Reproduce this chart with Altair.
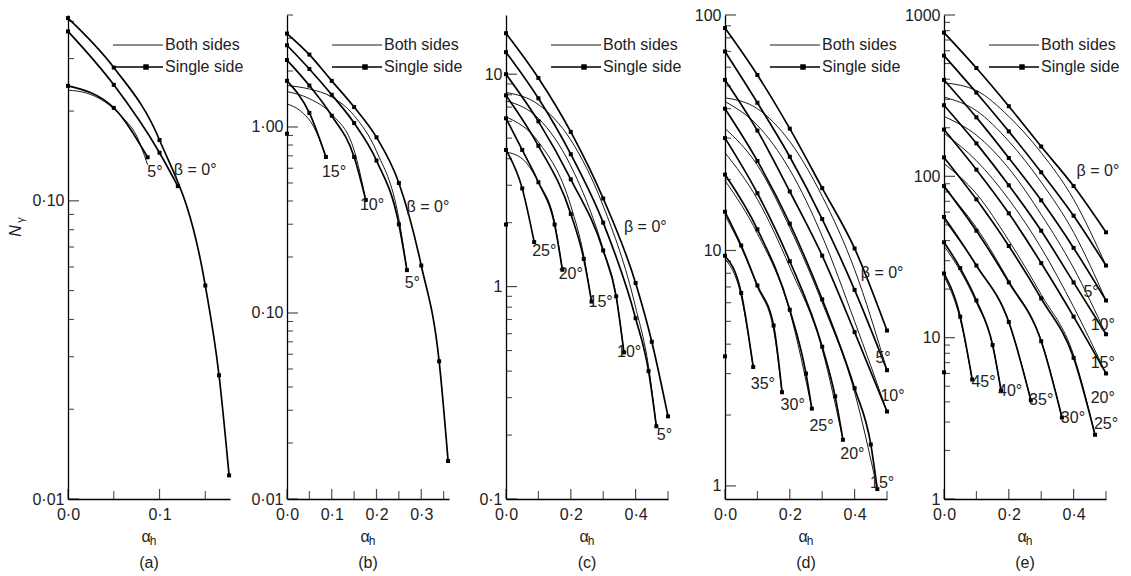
import altair as alt
import pandas as pd

FONT = "Liberation Sans"
INK = "#222222"
W, H = 162, 484

# ================= Panel (a) =================
A_ALPHA_DOMAIN = [0, 0.177]
A_N_DOMAIN = [0.01, 0.42]
A_SINGLE = {
    "0": ([0, 0.05, 0.10, 0.15, 0.165, 0.176], [0.41, 0.28, 0.16, 0.052, 0.026, 0.012]),
    "0b": ([0, 0.05, 0.10, 0.12], [0.37, 0.245, 0.145, 0.112]),
    "5": ([0, 0.05, 0.087], [0.243, 0.205, 0.14]),
}
A_BOTH = {
    "5": ([0, 0.02, 0.04, 0.06, 0.075, 0.087], [0.235, 0.23, 0.215, 0.19, 0.165, 0.132]),
}
A_ISOLATED = []
A_LABELS = [("5°", 0.095, 0.125), ("β = 0°", 0.139, 0.127)]
A_Y_MAJOR = [0.01, 0.1]
A_Y_MINOR = [0.02, 0.03, 0.04, 0.05, 0.06, 0.07, 0.08, 0.09, 0.2, 0.3, 0.4]
A_X_MAJOR = [0, 0.1]
A_X_MINOR = [0.05, 0.15]

# ================= Panel (b) =================
B_ALPHA_DOMAIN = [0, 0.362]
B_N_DOMAIN = [0.01, 4.0]
B_SINGLE = {
    "0": ([0, 0.05, 0.10, 0.15, 0.20, 0.25, 0.30, 0.34, 0.36],
          [3.18, 2.45, 1.77, 1.28, 0.88, 0.50, 0.18, 0.055, 0.016]),
    "5": ([0, 0.05, 0.10, 0.15, 0.20, 0.25, 0.268], [2.75, 2.05, 1.49, 1.05, 0.66, 0.30, 0.17]),
    "10": ([0, 0.05, 0.10, 0.15, 0.176], [2.29, 1.67, 1.15, 0.69, 0.405]),
    "15": ([0, 0.05, 0.087], [1.77, 1.19, 0.69]),
}
B_BOTH = {
    "5": ([0, 0.05, 0.10, 0.15, 0.20, 0.25, 0.268], [1.67, 1.60, 1.45, 1.15, 0.74, 0.32, 0.17]),
    "10": ([0, 0.05, 0.10, 0.15, 0.176], [1.55, 1.42, 1.17, 0.75, 0.405]),
    "15": ([0, 0.03, 0.06, 0.087], [1.33, 1.22, 1.00, 0.69]),
}
B_ISOLATED = [(0, 0.92)]
B_LABELS = [("15°", 0.105, 0.575), ("10°", 0.19, 0.38), ("5°", 0.28, 0.145), ("β = 0°", 0.315, 0.37)]
B_Y_MAJOR = [0.01, 0.1, 1]
B_Y_MINOR = [0.02, 0.03, 0.04, 0.05, 0.06, 0.07, 0.08, 0.09,
             0.2, 0.3, 0.4, 0.5, 0.6, 0.7, 0.8, 0.9, 2, 3, 4]
B_X_MAJOR = [0, 0.1, 0.2, 0.3]
B_X_MINOR = [0.05, 0.15, 0.25, 0.35]

# ================= Panel (c) =================
C_ALPHA_DOMAIN = [0, 0.5]
C_N_DOMAIN = [0.1, 19]
C_SINGLE = {
    "0": ([0, 0.1, 0.2, 0.3, 0.4, 0.45, 0.5], [15.6, 9.6, 5.35, 2.6, 1.04, 0.55, 0.245]),
    "5": ([0, 0.1, 0.2, 0.3, 0.4, 0.44, 0.464], [12.7, 7.7, 4.2, 2.0, 0.71, 0.40, 0.22]),
    "10": ([0, 0.1, 0.2, 0.3, 0.34, 0.364], [10.0, 6.0, 3.2, 1.48, 0.90, 0.49]),
    "15": ([0, 0.1, 0.2, 0.24, 0.264], [7.95, 4.6, 2.2, 1.35, 0.85]),
    "20": ([0, 0.05, 0.1, 0.15, 0.174], [6.2, 4.4, 3.1, 1.96, 1.2]),
    "25": ([0, 0.05, 0.087], [4.4, 2.9, 1.62]),
}
C_BOTH = {
    "5": ([0, 0.1, 0.2, 0.3, 0.4, 0.44, 0.464], [8.2, 7.2, 4.9, 2.4, 0.80, 0.42, 0.22]),
    "10": ([0, 0.1, 0.2, 0.3, 0.34, 0.364], [7.5, 6.2, 3.7, 1.5, 0.90, 0.49]),
    "15": ([0, 0.1, 0.2, 0.24, 0.264], [6.3, 4.8, 2.4, 1.4, 0.85]),
    "20": ([0, 0.05, 0.1, 0.15, 0.174], [4.3, 4.0, 3.1, 2.0, 1.2]),
}
C_ISOLATED = [(0, 1.96)]
C_LABELS = [("25°", 0.118, 1.47), ("20°", 0.20, 1.15), ("15°", 0.292, 0.85),
            ("10°", 0.38, 0.49), ("5°", 0.489, 0.20), ("β = 0°", 0.43, 1.9)]
C_Y_MAJOR = [0.1, 1, 10]
C_Y_MINOR = [0.2, 0.3, 0.4, 0.5, 0.6, 0.7, 0.8, 0.9, 2, 3, 4, 5, 6, 7, 8, 9]
C_X_MAJOR = [0, 0.2, 0.4]
C_X_MINOR = [0.1, 0.3, 0.5]

# ================= Panel (d) =================
D_ALPHA_DOMAIN = [0, 0.5]
D_N_DOMAIN = [0.88, 100]
D_SINGLE = {
    "0": ([0, 0.1, 0.2, 0.3, 0.4, 0.5], [88, 55.6, 32.9, 18.4, 10.2, 4.57]),
    "5": ([0, 0.1, 0.2, 0.3, 0.4, 0.5], [70, 42.4, 25, 13.6, 6.8, 3.1]),
    "10": ([0, 0.1, 0.2, 0.3, 0.4, 0.5], [53, 32.3, 17.8, 9.5, 4.5, 2.07]),
    "15": ([0, 0.1, 0.2, 0.3, 0.4, 0.45, 0.47], [40, 24, 13, 6.2, 2.6, 1.5, 0.97]),
    "20": ([0, 0.1, 0.2, 0.3, 0.34, 0.364], [30, 17.5, 9.0, 3.9, 2.4, 1.57]),
    "25": ([0, 0.1, 0.2, 0.25, 0.268], [21, 12.3, 5.6, 3.0, 2.13]),
    "30": ([0, 0.05, 0.1, 0.15, 0.176], [14.6, 10.5, 7.1, 4.8, 2.5]),
    "35": ([0, 0.05, 0.087], [9.5, 6.6, 3.2]),
}
D_BOTH = {
    "5": ([0, 0.1, 0.2, 0.3, 0.4, 0.5], [44.5, 40, 29, 17, 8.3, 3.1]),
    "10": ([0, 0.1, 0.2, 0.3, 0.4, 0.5], [42.9, 34, 22, 11.5, 5.0, 2.07]),
    "15": ([0, 0.1, 0.2, 0.3, 0.4, 0.47], [33, 23, 12.5, 6.0, 2.5, 0.97]),
    "20": ([0, 0.1, 0.2, 0.3, 0.364], [26, 16.5, 8.5, 3.8, 1.57]),
    "25": ([0, 0.1, 0.2, 0.268], [19.8, 11.8, 5.5, 2.13]),
    "30": ([0, 0.05, 0.1, 0.15, 0.176], [14.1, 10.3, 7.0, 4.6, 2.5]),
    "35": ([0, 0.05, 0.087], [9.2, 6.4, 3.2]),
}
D_ISOLATED = [(0, 3.55)]
D_LABELS = [("β = 0°", 0.485, 8.0), ("5°", 0.488, 3.5), ("10°", 0.517, 2.4), ("15°", 0.485, 1.03),
            ("20°", 0.393, 1.37), ("25°", 0.298, 1.8), ("30°", 0.209, 2.2), ("35°", 0.117, 2.7)]
D_Y_MAJOR = [1, 10, 100]
D_Y_MINOR = [2, 3, 4, 5, 6, 7, 8, 9, 20, 30, 40, 50, 60, 70, 80, 90]
D_X_MAJOR = [0, 0.2, 0.4]
D_X_MINOR = [0.1, 0.3, 0.5]

# ================= Panel (e) =================
E_ALPHA_DOMAIN = [0, 0.5]
E_N_DOMAIN = [1, 1000]
E_SINGLE = {
    "0": ([0, 0.1, 0.2, 0.3, 0.4, 0.5], [778, 469, 272, 153, 87, 45]),
    "5": ([0, 0.1, 0.2, 0.3, 0.4, 0.5], [560, 330, 190, 106, 57, 28]),
    "10": ([0, 0.1, 0.2, 0.3, 0.4, 0.5], [396, 232, 130, 71, 36, 17]),
    "15": ([0, 0.1, 0.2, 0.3, 0.4, 0.5], [276, 160, 88, 46, 22, 10.5]),
    "20": ([0, 0.1, 0.2, 0.3, 0.4, 0.5], [195, 110, 59, 29, 13.5, 6.0]),
    "25": ([0, 0.1, 0.2, 0.3, 0.4, 0.466], [131, 72, 37, 17.5, 7.5, 2.5]),
    "30": ([0, 0.1, 0.2, 0.3, 0.364], [87, 46, 22, 9.5, 3.2]),
    "35": ([0, 0.1, 0.2, 0.268], [56, 28, 12.5, 4.1]),
    "40": ([0, 0.05, 0.1, 0.15, 0.176], [39, 27, 17, 9, 4.7]),
    "45": ([0, 0.05, 0.087], [25, 13.5, 5.5]),
}
E_BOTH = {
    "5": ([0, 0.1, 0.2, 0.3, 0.4, 0.5], [380, 340, 235, 140, 72, 28]),
    "10": ([0, 0.1, 0.2, 0.3, 0.4, 0.5], [310, 255, 165, 92, 45, 17]),
    "15": ([0, 0.1, 0.2, 0.3, 0.4, 0.5], [235, 180, 112, 58, 27, 10.5]),
    "20": ([0, 0.1, 0.2, 0.3, 0.4, 0.5], [185, 125, 72, 36, 15.5, 6.0]),
    "25": ([0, 0.1, 0.2, 0.3, 0.4, 0.466], [120, 78, 40, 18.5, 7.8, 2.5]),
    "30": ([0, 0.1, 0.2, 0.3, 0.364], [85, 48, 22.5, 9.6, 3.2]),
    "35": ([0, 0.1, 0.2, 0.268], [54, 28, 12.5, 4.1]),
    "40": ([0, 0.05, 0.1, 0.15, 0.176], [37, 26, 16.5, 9, 4.7]),
    "45": ([0, 0.05, 0.087], [24, 13, 5.5]),
}
E_ISOLATED = [(0, 6.1)]
E_LABELS = [("β = 0°", 0.475, 108), ("5°", 0.454, 19.3), ("10°", 0.49, 11.9), ("15°", 0.49, 7.0),
            ("20°", 0.49, 4.2), ("25°", 0.50, 2.9), ("30°", 0.398, 3.2), ("35°", 0.30, 4.1),
            ("40°", 0.204, 4.7), ("45°", 0.122, 5.3)]
E_Y_MAJOR = [1, 10, 100, 1000]
E_Y_MINOR = [2, 3, 4, 5, 6, 7, 8, 9, 20, 30, 40, 50, 60, 70, 80, 90,
             200, 300, 400, 500, 600, 700, 800, 900]
E_X_MAJOR = [0, 0.2, 0.4]
E_X_MINOR = [0.1, 0.3, 0.5]


def curve_frame(curves, kind):
    rows = []
    for name, (xs, ys) in curves.items():
        for x, y in zip(xs, ys):
            rows.append({"curve": f"{kind}-{name}", "alpha": x, "N": y})
    return pd.DataFrame(rows, columns=["curve", "alpha", "N"])


def txt(text, x, y, size=16, **kw):
    return alt.Chart(pd.DataFrame({"t": [text]})).mark_text(
        text=text, font=FONT, fontSize=size, color=INK, **kw
    ).encode(x=alt.value(x), y=alt.value(y))


def make_panel(letter, xdom, ydom, single, both, isolated, labels,
               ymajor, yminor, yfmt, xmajor, xminor, ytitle=False):
    xsc = alt.Scale(domain=xdom, nice=False, zero=False)
    ysc = alt.Scale(type="log", domain=ydom, nice=False)
    common = dict(ticks=False, grid=False, domainColor="black", domainWidth=1.3,
                  labelFont=FONT, labelFontSize=16, labelColor=INK, labelFlush=False,
                  labelOverlap=False, title=None,
                  labelExpr="replace(datum.label, '.', '·')")
    xax = alt.Axis(values=xmajor, format=".1f", labelPadding=7, **common)
    yax = alt.Axis(values=ymajor, format=yfmt, labelPadding=4, **common)

    def X():
        return alt.X("alpha:Q", scale=xsc, axis=xax)

    def Y():
        return alt.Y("N:Q", scale=ysc, axis=yax)

    layers = []
    sdf = curve_frame(single, "s")
    bdf = curve_frame(both, "b")
    idf = pd.DataFrame([{"curve": "iso", "alpha": a, "N": n} for a, n in isolated],
                       columns=["curve", "alpha", "N"])

    layers.append(alt.Chart(sdf).mark_line(color="black", strokeWidth=1.7, interpolate="monotone")
                  .encode(x=X(), y=Y(), detail="curve:N"))
    layers.append(alt.Chart(bdf).mark_line(color="black", strokeWidth=0.9, interpolate="monotone")
                  .encode(x=X(), y=Y(), detail="curve:N"))
    layers.append(alt.Chart(pd.concat([sdf, idf], ignore_index=True))
                  .mark_square(color="black", size=16, opacity=1)
                  .encode(x=X(), y=Y()))

    # inward tick marks (ticks centred half a length inside the axis line)
    layers.append(alt.Chart(pd.DataFrame({"N": ymajor}))
                  .mark_tick(orient="horizontal", color="black", size=11, thickness=1.2)
                  .encode(y=Y(), x=alt.value(5.5)))
    layers.append(alt.Chart(pd.DataFrame({"N": yminor}))
                  .mark_tick(orient="horizontal", color="black", size=6, thickness=1.1)
                  .encode(y=Y(), x=alt.value(3)))
    layers.append(alt.Chart(pd.DataFrame({"alpha": xmajor}))
                  .mark_tick(orient="vertical", color="black", size=10, thickness=1.2)
                  .encode(x=X(), y=alt.value(H - 5)))
    layers.append(alt.Chart(pd.DataFrame({"alpha": xminor}))
                  .mark_tick(orient="vertical", color="black", size=8, thickness=1.1)
                  .encode(x=X(), y=alt.value(H - 4)))

    ldf = pd.DataFrame(labels, columns=["text", "alpha", "N"])
    layers.append(alt.Chart(ldf).mark_text(font=FONT, fontSize=16, color=INK, align="center",
                                           baseline="middle")
                  .encode(x=X(), y=Y(), text="text:N"))

    # legend
    one = pd.DataFrame({"k": [0]})
    layers.append(alt.Chart(one).mark_rule(color="black", strokeWidth=0.9)
                  .encode(x=alt.value(45), x2=alt.value(95), y=alt.value(30)))
    layers.append(alt.Chart(one).mark_rule(color="black", strokeWidth=1.7)
                  .encode(x=alt.value(45), x2=alt.value(95), y=alt.value(52)))
    layers.append(alt.Chart(one).mark_square(color="black", size=30, opacity=1)
                  .encode(x=alt.value(78), y=alt.value(52)))
    layers.append(txt("Both sides", 97, 30, align="left", baseline="middle"))
    layers.append(txt("Single side", 97, 52, align="left", baseline="middle"))

    # axis title and panel letter
    layers.append(txt("α", W / 2 - 3, H + 38, align="center", baseline="middle"))
    layers.append(txt("h", W / 2 + 4, H + 42, size=12, align="center", baseline="middle"))
    layers.append(txt(f"({letter})", W / 2, H + 64, align="center", baseline="middle"))

    if ytitle:
        layers.append(txt("N", -52, 216, angle=270, fontStyle="italic",
                          align="center", baseline="middle"))
        layers.append(txt("γ", -47, 205, size=11, angle=270,
                          align="center", baseline="middle"))

    return alt.layer(*layers).properties(width=W, height=H)


pa = make_panel("a", A_ALPHA_DOMAIN, A_N_DOMAIN, A_SINGLE, A_BOTH, A_ISOLATED, A_LABELS,
                A_Y_MAJOR, A_Y_MINOR, ".2f", A_X_MAJOR, A_X_MINOR, ytitle=True)
pb = make_panel("b", B_ALPHA_DOMAIN, B_N_DOMAIN, B_SINGLE, B_BOTH, B_ISOLATED, B_LABELS,
                B_Y_MAJOR, B_Y_MINOR, ".2f", B_X_MAJOR, B_X_MINOR)
pc = make_panel("c", C_ALPHA_DOMAIN, C_N_DOMAIN, C_SINGLE, C_BOTH, C_ISOLATED, C_LABELS,
                C_Y_MAJOR, C_Y_MINOR, "~g", C_X_MAJOR, C_X_MINOR)
pd_ = make_panel("d", D_ALPHA_DOMAIN, D_N_DOMAIN, D_SINGLE, D_BOTH, D_ISOLATED, D_LABELS,
                 D_Y_MAJOR, D_Y_MINOR, "d", D_X_MAJOR, D_X_MINOR)
pe = make_panel("e", E_ALPHA_DOMAIN, E_N_DOMAIN, E_SINGLE, E_BOTH, E_ISOLATED, E_LABELS,
                E_Y_MAJOR, E_Y_MINOR, "d", E_X_MAJOR, E_X_MINOR)

chart = (
    alt.hconcat(pa, pb, pc, pd_, pe, spacing=57, bounds="flush")
    .properties(padding={"left": 8, "top": 7, "right": 0, "bottom": 0}, background="white")
    .configure_view(stroke=None)
)

chart.save("out.html", embed_options={"renderer": "svg", "actions": False})
